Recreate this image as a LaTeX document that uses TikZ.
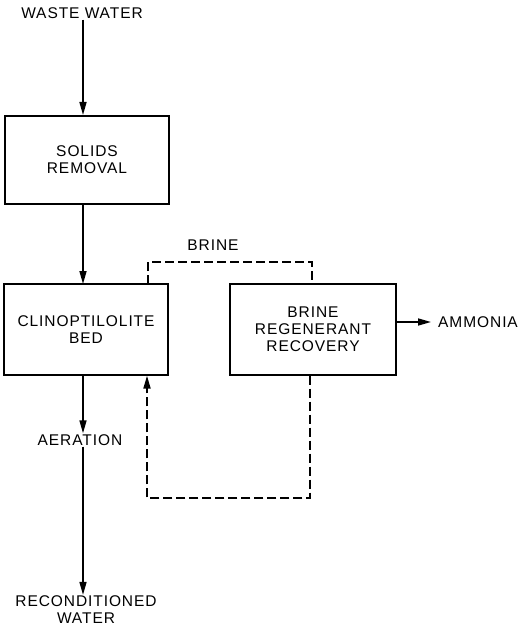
\documentclass[tikz,border=0pt]{standalone}
\usepackage{fontspec}
\setmainfont[LetterSpace=6]{Liberation Sans}
\usetikzlibrary{arrows.meta}
\begin{document}
\begin{tikzpicture}[x=1pt,y=-1pt,
  every node/.style={font=\fontsize{15.5}{17}\selectfont},
  proc/.style={draw,line width=1.3pt,align=center,inner sep=0pt},
  lbl/.style={align=center,inner sep=1pt},
  flow/.style={line width=1.6pt,-{Triangle[length=13pt,width=7pt]}},
  ret/.style={line width=1.8pt,dash pattern=on 9pt off 4pt},
  retarrow/.style={ret,-{Triangle[length=13pt,width=7pt]}}]
\useasboundingbox (0,0) rectangle (519,628);
\node[lbl] (ww) at (82,13) {WASTE WATER};
\node[proc,minimum width=164pt,minimum height=88pt] (sr) at (87,160) {SOLIDS\\REMOVAL};
\node[proc,minimum width=164pt,minimum height=91pt] (cb) at (86,329.5) {CLINOPTILOLITE\\BED};
\node[proc,minimum width=166pt,minimum height=91pt] (br) at (313,329.5) {BRINE\\REGENERANT\\RECOVERY};
\node[lbl,anchor=west] (am) at (437,322) {AMMONIA};
\node[lbl] (brl) at (213,245) {BRINE};
\node[lbl] (ae) at (80,440) {AERATION};
\node[lbl] (rw) at (86,610) {RECONDITIONED\\WATER};
\coordinate (b1) at (148,262);
\coordinate (b2) at (312,262);
\coordinate (r1) at (310,498);
\coordinate (r2) at (147,498);
\draw[flow] (ww.south -| 83,0) -- (83,115);
\draw[flow] (83,204) -- (83,284);
\draw[flow] (83,375) -- (ae.north -| 83,0);
\draw[flow] (ae.south -| 83,0) -- (rw.north -| 83,0);
\draw[flow] (br.east |- am) -- ([xshift=-6pt]am.west);
\draw[ret] (148,284) -- (b1) -- (b2) -- (312,284);
\draw[retarrow] (br.south -| r1) -- (r1) -- (r2) -- (cb.south -| r2);
\end{tikzpicture}
\end{document}
